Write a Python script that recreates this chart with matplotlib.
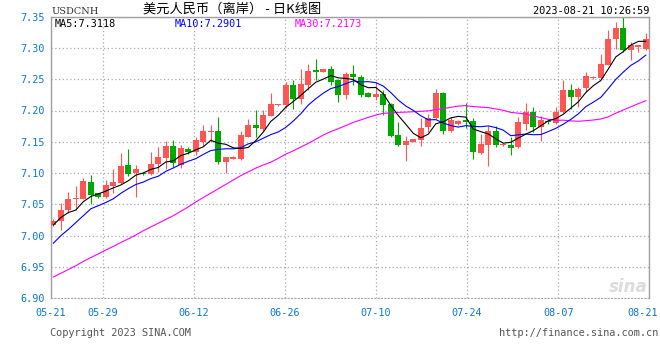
import matplotlib
matplotlib.use("Agg")
import matplotlib.pyplot as plt
from matplotlib.transforms import ScaledTranslation
import numpy as np
import pandas as pd

# daily candles USDCNH
opens = [7.017, 7.024, 7.041, 7.058, 7.059, 7.086, 7.068, 7.062, 7.079, 7.084,
         7.113, 7.100, 7.100, 7.098, 7.114, 7.124, 7.143, 7.113, 7.138, 7.134,
         7.150, 7.166, 7.167, 7.117, 7.123, 7.122, 7.158, 7.177, 7.170, 7.192,
         7.208, 7.208, 7.241, 7.218, 7.241, 7.264, 7.262, 7.267, 7.248, 7.224,
         7.258, 7.253, 7.228, 7.222, 7.226, 7.210, 7.161, 7.145, 7.150, 7.153,
         7.174, 7.188, 7.228, 7.168, 7.178, 7.185, 7.183, 7.132, 7.145, 7.167,
         7.145, 7.145, 7.141, 7.178, 7.198, 7.173, 7.183, 7.180, 7.197, 7.233,
         7.222, 7.236, 7.2515, 7.252, 7.273, 7.314, 7.332, 7.297, 7.302, 7.298]
highs = [7.026, 7.052, 7.070, 7.079, 7.092, 7.097, 7.069, 7.089, 7.106, 7.132,
         7.138, 7.113, 7.101, 7.134, 7.142, 7.151, 7.153, 7.145, 7.141, 7.158,
         7.177, 7.177, 7.189, 7.126, 7.127, 7.167, 7.186, 7.201, 7.201, 7.228,
         7.210, 7.245, 7.248, 7.267, 7.274, 7.283, 7.267, 7.271, 7.251, 7.262,
         7.273, 7.256, 7.229, 7.246, 7.233, 7.212, 7.181, 7.159, 7.155, 7.188,
         7.194, 7.234, 7.230, 7.189, 7.185, 7.212, 7.188, 7.163, 7.175, 7.175,
         7.148, 7.157, 7.190, 7.212, 7.205, 7.191, 7.186, 7.205, 7.249, 7.242,
         7.237, 7.262, 7.255, 7.291, 7.329, 7.342, 7.349, 7.310, 7.305, 7.324]
lows = [7.015, 7.009, 7.036, 7.041, 7.058, 7.051, 7.061, 7.061, 7.068, 7.082,
        7.095, 7.062, 7.097, 7.097, 7.101, 7.106, 7.110, 7.108, 7.131, 7.129,
        7.143, 7.150, 7.114, 7.100, 7.122, 7.121, 7.157, 7.158, 7.168, 7.191,
        7.207, 7.204, 7.202, 7.210, 7.232, 7.249, 7.261, 7.241, 7.214, 7.218,
        7.241, 7.222, 7.221, 7.217, 7.193, 7.158, 7.143, 7.120, 7.150, 7.144,
        7.165, 7.186, 7.163, 7.165, 7.177, 7.172, 7.123, 7.131, 7.111, 7.141,
        7.144, 7.129, 7.140, 7.169, 7.166, 7.152, 7.178, 7.178, 7.196, 7.202,
        7.206, 7.230, 7.251, 7.251, 7.272, 7.299, 7.294, 7.280, 7.294, 7.297]
closes = [7.024, 7.041, 7.059, 7.060, 7.088, 7.065, 7.062, 7.081, 7.086, 7.111,
          7.099, 7.107, 7.098, 7.115, 7.126, 7.143, 7.116, 7.140, 7.134, 7.153,
          7.167, 7.168, 7.117, 7.125, 7.125, 7.161, 7.177, 7.172, 7.193, 7.210,
          7.210, 7.241, 7.218, 7.242, 7.263, 7.262, 7.266, 7.246, 7.224, 7.258,
          7.253, 7.225, 7.222, 7.226, 7.208, 7.159, 7.145, 7.152, 7.154, 7.172,
          7.188, 7.228, 7.168, 7.185, 7.184, 7.182, 7.133, 7.147, 7.167, 7.145,
          7.147, 7.140, 7.181, 7.198, 7.173, 7.185, 7.181, 7.198, 7.233, 7.222,
          7.235, 7.255, 7.253, 7.274, 7.314, 7.332, 7.297, 7.305, 7.304, 7.315]

# moving average values at the left edge (window reaches before the chart)
ma5_head = [7.017, 7.029, 7.037, 7.041]
ma10_head = [6.988, 7.000, 7.010, 7.021, 7.032, 7.043, 7.048, 7.053, 7.059]
ma30_head = [6.934, 6.940, 6.946, 6.952, 6.959, 6.965, 6.971, 6.977, 6.983, 6.989,
             6.995, 7.001, 7.008, 7.014, 7.020, 7.026, 7.032, 7.039, 7.046, 7.054,
             7.061, 7.068, 7.075, 7.082, 7.089, 7.096, 7.102, 7.108, 7.113]

tick_dates = ["2023-05-21", "2023-05-29", "2023-06-12", "2023-06-26",
              "2023-07-10", "2023-07-24", "2023-08-07", "2023-08-21"]
y_ticks = [6.90, 6.95, 7.00, 7.05, 7.10, 7.15, 7.20, 7.25, 7.30, 7.35]

o = np.array(opens)
h = np.array(highs)
l = np.array(lows)
c = np.array(closes)
x = np.arange(len(c))

cl = pd.Series(closes)
ma5 = cl.rolling(5).mean().to_numpy()
ma5[:len(ma5_head)] = ma5_head
ma10 = cl.rolling(10).mean().to_numpy()
ma10[:len(ma10_head)] = ma10_head
ma30 = cl.rolling(30).mean().to_numpy()
ma30[:len(ma30_head)] = ma30_head

RED = "#ff5555"
GREEN = "#00a800"
BLUE_TXT = "#0a78d2"
MONO = "DejaVu Sans Mono"

fig = plt.figure(figsize=(6.6, 3.6), dpi=100)
ax = fig.add_axes([50.7 / 660, 1 - 298.3 / 360, (649.3 - 50.7) / 660, (298.3 - 16.6) / 360])

x0, x1 = -0.35, 79.47
ax.set_xlim(x0, x1)
ax.set_ylim(6.90, 7.35)

# ticks and grid
ax.set_yticks(y_ticks)
ax.set_yticklabels(["%.2f" % v for v in y_ticks], family=MONO, fontsize=7.3, color=BLUE_TXT)
dts = pd.to_datetime(tick_dates)
span = (dts[-1] - dts[0]).days
xt = [x0 + (d - dts[0]).days / span * (x1 - x0) for d in dts]
ax.set_xticks(xt)
ax.set_xticklabels([d.strftime("%m-%d") for d in dts], family=MONO, fontsize=7.3, color=BLUE_TXT)
ax.tick_params(length=0)
ax.tick_params(axis="y", pad=4)
ax.tick_params(axis="x", pad=7)
last = ax.get_xticklabels()[-1]
last.set_transform(last.get_transform() + ScaledTranslation(-7 / 100, 0, fig.dpi_scale_trans))
ax.grid(True, color="#aaaaaa", linestyle=(0, (1, 2)), linewidth=0.9)
ax.set_axisbelow(True)

for s in ["left", "top", "right"]:
    ax.spines[s].set_color("#a0a0a0")
    ax.spines[s].set_linewidth(1.0)
ax.spines["bottom"].set_color("#aaaaaa")
ax.spines["bottom"].set_linestyle((0, (1, 2)))

# candles (red = up, green = down)
up = c >= o
cols = np.where(up, RED, GREEN)
ax.vlines(x, l, h, colors=cols, linewidth=0.8, zorder=2)
body_low = np.minimum(o, c)
body_h = np.maximum(np.abs(c - o), 0.0016)
ax.bar(x, body_h, bottom=body_low, width=0.78, color=cols, linewidth=0, zorder=3)

# moving averages
ax.plot(x, ma30, color="#ff00ff", linewidth=0.8, zorder=4)
ax.plot(x, ma10, color="#0000ff", linewidth=0.8, zorder=4)
ax.plot(x, ma5, color="#000000", linewidth=0.8, zorder=4)

# MA values inside plot
fig.text(55 / 660, 1 - 24 / 360, "MA5:7.3118", fontsize=7.3, family=MONO, color="black", va="center")
fig.text(174.3 / 660, 1 - 24 / 360, "MA10:7.2901", fontsize=7.3, family=MONO, color="#0000ff", va="center")
fig.text(295 / 660, 1 - 24 / 360, "MA30:7.2173", fontsize=7.3, family=MONO, color="#ff00ff", va="center")

# header
fig.text(51.5 / 660, 1 - 12 / 360, "USDCNH", fontsize=7, family="DejaVu Serif", color="#333333", va="center")
fig.text(232 / 660, 1 - 9.5 / 360, "美元人民币（离岸） - 日K线图", fontsize=9.5,
         family=["Noto Sans CJK SC", "DejaVu Sans"], color="black", va="center", ha="center")
fig.text(649.5 / 660, 1 - 11.5 / 360, "2023-08-21 10:26:59", fontsize=7.4, family=MONO,
         color="black", va="center", ha="right")

# footer
fig.text(50 / 660, 1 - 333 / 360, "Copyright 2023 SINA.COM", fontsize=7.4, family=MONO,
         color="#555555", va="center")
fig.text(658 / 660, 1 - 333 / 360, "http://finance.sina.com.cn", fontsize=7.4, family=MONO,
         color="#555555", va="center", ha="right")

# watermark
fig.text(648 / 660, 1 - 296 / 360, "sina", fontsize=12, style="italic", weight="bold",
         color="#dcdcdc", ha="right", va="bottom")

fig.savefig("out.png", dpi=100, facecolor="white")
